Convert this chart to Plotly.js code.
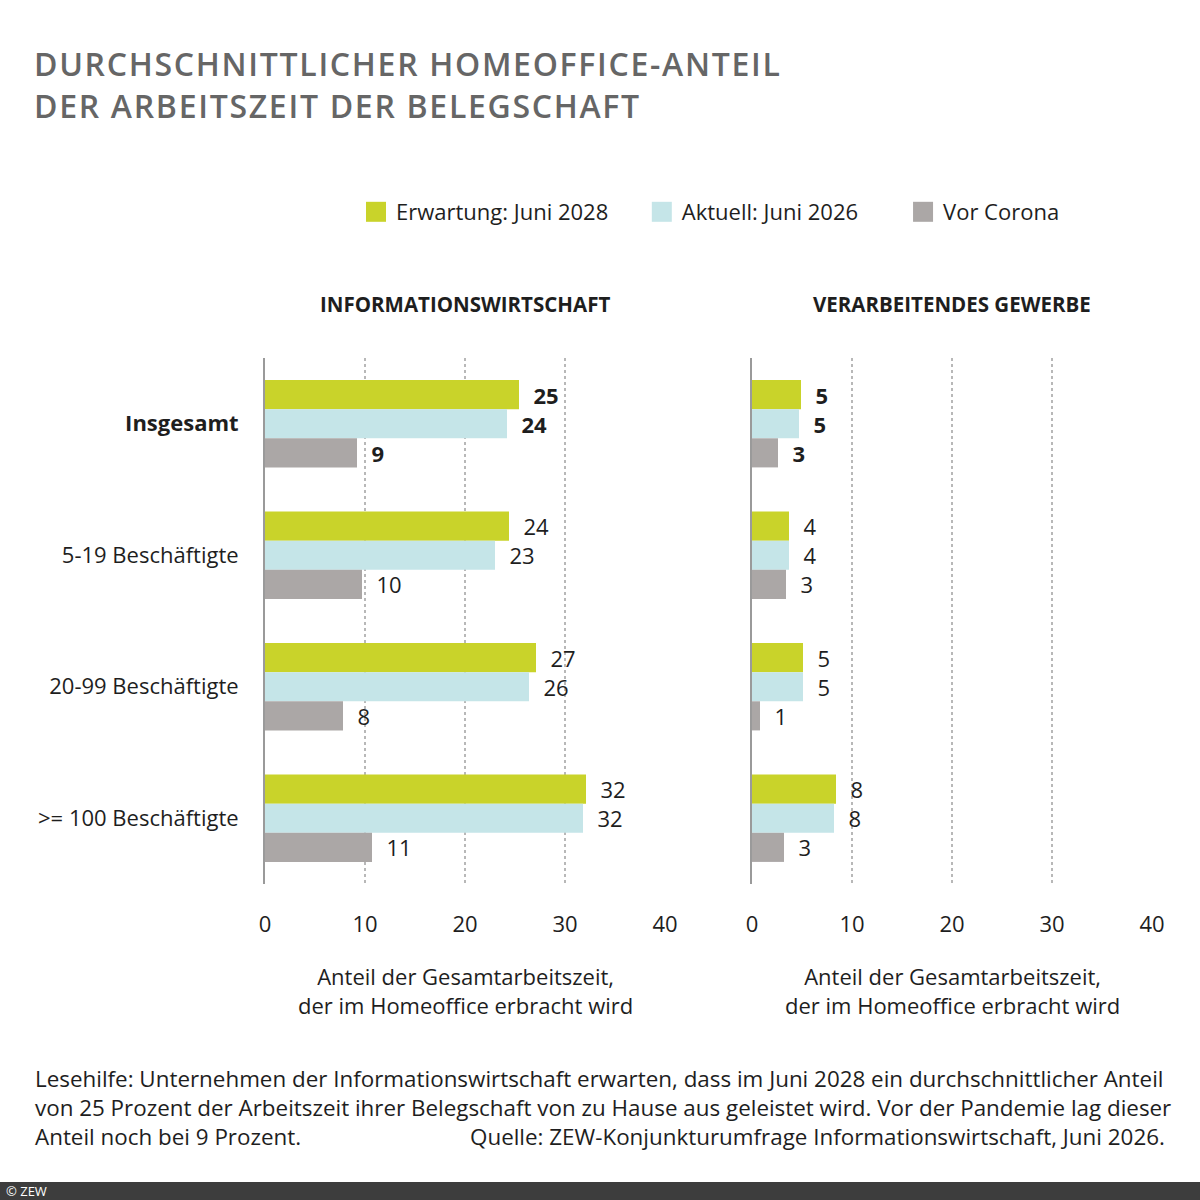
<!DOCTYPE html>
<html>
<head>
<meta charset="utf-8">
<script src="https://cdn.plot.ly/plotly-3.0.1.min.js"></script>
<style>
  html, body { margin: 0; padding: 0; background: #fff; }
  #chart { width: 1200px; height: 1200px; }
  .gtitle { letter-spacing: 1.7px; }
  /* bigger legend squares, like the original */
  .legend .legendpoints path { d: path("M10,10H-10V-10H10Z"); }
</style>
</head>
<body>
<div id="chart"></div>
<script>
// categories and series
var groups = ['Insgesamt', '5-19 Beschäftigte', '20-99 Beschäftigte', '>= 100 Beschäftigte'];
var groupLabels = ['<b>Insgesamt</b>', '5-19 Beschäftigte', '20-99 Beschäftigte', '>= 100 Beschäftigte'];
var seriesNames = ['Erwartung: Juni 2028', 'Aktuell: Juni 2026', 'Vor Corona'];
var seriesColors = ['#c9d32a', '#c5e5e8', '#aba7a6'];

// Informationswirtschaft (bar lengths / printed labels)
var infoErwartung = [25.4, 24.4, 27.1, 32.1];
var infoAktuell = [24.2, 23.0, 26.4, 31.8];
var infoVorCorona = [9.2, 9.7, 7.8, 10.7];
var infoErwartungLbl = [25, 24, 27, 32];
var infoAktuellLbl = [24, 23, 26, 32];
var infoVorCoronaLbl = [9, 10, 8, 11];

// Verarbeitendes Gewerbe
var verErwartung = [4.9, 3.7, 5.1, 8.4];
var verAktuell = [4.7, 3.7, 5.1, 8.2];
var verVorCorona = [2.6, 3.4, 0.8, 3.2];
var verErwartungLbl = [5, 4, 5, 8];
var verAktuellLbl = [5, 4, 5, 8];
var verVorCoronaLbl = [3, 3, 1, 3];

var xTicks = [0, 10, 20, 30, 40];

var FONT = 'Open Sans, sans-serif';
var INK = '#1e1e1e';
var FS = 22;
var W = 1200, H = 1200;

function px(x) { return x / W; }
function py(y) { return 1 - y / H; }

// label text: small gap after bar end, bold for first row
function labels(vals) {
  return vals.map(function (v, i) {
    var t = '\u00a0\u00a0' + v;
    return i === 0 ? '<b>' + t + '</b>' : t;
  });
}

var info = [infoErwartung, infoAktuell, infoVorCorona];
var infoLbl = [infoErwartungLbl, infoAktuellLbl, infoVorCoronaLbl];
var ver = [verErwartung, verAktuell, verVorCorona];
var verLbl = [verErwartungLbl, verAktuellLbl, verVorCoronaLbl];
// spacing between legend entries
var namePad = ['\u00a0\u00a0\u00a0\u00a0\u00a0', '\u00a0\u00a0\u00a0\u00a0\u00a0\u00a0\u00a0', ''];

var data = [];
for (var i = 0; i < 3; i++) {
  data.push({
    type: 'bar',
    orientation: 'h',
    name: seriesNames[i] + namePad[i],
    legendgroup: 's' + i,
    x: info[i],
    y: groups,
    text: labels(infoLbl[i]),
    textposition: 'outside',
    constraintext: 'none',
    cliponaxis: false,
    textfont: { family: FONT, size: FS, color: INK },
    marker: { color: seriesColors[i], line: { width: 0 } },
    hoverinfo: 'skip',
    xaxis: 'x',
    yaxis: 'y'
  });
}
for (var i = 0; i < 3; i++) {
  data.push({
    type: 'bar',
    orientation: 'h',
    name: seriesNames[i],
    legendgroup: 's' + i,
    showlegend: false,
    x: ver[i],
    y: groups,
    text: labels(verLbl[i]),
    textposition: 'outside',
    constraintext: 'none',
    cliponaxis: false,
    textfont: { family: FONT, size: FS, color: INK },
    marker: { color: seriesColors[i], line: { width: 0 } },
    hoverinfo: 'skip',
    xaxis: 'x2',
    yaxis: 'y2'
  });
}

var xAxisBase = {
  range: [0, 40],
  tickvals: xTicks,
  ticktext: xTicks.map(String),
  ticks: 'outside',
  ticklen: 21,
  tickcolor: 'rgba(0,0,0,0)',
  tickfont: { family: FONT, size: FS, color: INK },
  showgrid: true,
  gridcolor: '#b8b8b8',
  gridwidth: 2,
  griddash: 'dot',
  zeroline: false,
  showline: false,
  fixedrange: true
};
var yAxisBase = {
  type: 'category',
  categoryorder: 'array',
  categoryarray: groups,
  autorange: 'reversed',
  domain: [py(884), py(358)],
  showline: true,
  linecolor: '#9a9a9a',
  linewidth: 2,
  showgrid: false,
  zeroline: false,
  fixedrange: true
};

function note(text, x, y, xanchor, size) {
  return {
    text: text, x: px(x), y: py(y), xref: 'paper', yref: 'paper',
    xanchor: xanchor, yanchor: 'middle', showarrow: false,
    font: { family: FONT, size: size || FS, color: INK }
  };
}

var axisTitle = 'Anteil der Gesamtarbeitszeit,<br>der im Homeoffice erbracht wird';
var FOOT = 22.4;

var layout = {
  width: W,
  height: H,
  margin: { l: 0, r: 0, t: 0, b: 0 },
  paper_bgcolor: '#ffffff',
  plot_bgcolor: '#ffffff',
  barmode: 'group',
  bargap: 0.336,
  bargroupgap: 0,
  font: { family: FONT, color: INK },
  title: {
    text: 'DURCHSCHNITTLICHER HOMEOFFICE-ANTEIL<br>DER ARBEITSZEIT DER BELEGSCHAFT',
    x: px(34), xanchor: 'left', xref: 'paper',
    y: py(76), yanchor: 'top', yref: 'paper',
    font: { family: FONT, size: 32, color: '#666666', weight: 600 }
  },
  showlegend: true,
  legend: {
    orientation: 'h',
    x: px(356), xanchor: 'left',
    y: py(212), yanchor: 'middle',
    font: { family: FONT, size: FS, color: INK },
    bgcolor: 'rgba(0,0,0,0)'
  },
  xaxis: Object.assign({}, xAxisBase, { domain: [px(265), px(665)], anchor: 'y' }),
  yaxis: Object.assign({}, yAxisBase, {
    anchor: 'x',
    tickvals: groups,
    ticktext: groupLabels,
    ticks: 'outside',
    ticklen: 20,
    tickcolor: 'rgba(0,0,0,0)',
    tickfont: { family: FONT, size: FS, color: INK }
  }),
  xaxis2: Object.assign({}, xAxisBase, { domain: [px(752), px(1152)], anchor: 'y2' }),
  yaxis2: Object.assign({}, yAxisBase, { anchor: 'x2', showticklabels: false }),
  shapes: [
    { type: 'rect', xref: 'paper', yref: 'paper', x0: 0, x1: 1, y0: 0, y1: py(1182),
      fillcolor: '#3d3d3d', line: { width: 0 }, layer: 'above' }
  ],
  annotations: [
    note('<b>INFORMATIONSWIRTSCHAFT</b>', 465, 304, 'center', 20.5),
    note('<b>VERARBEITENDES GEWERBE</b>', 952, 304, 'center', 20.5),
    note(axisTitle, 465, 990, 'center'),
    note(axisTitle, 952, 990, 'center'),
    note('Lesehilfe: Unternehmen der Informationswirtschaft erwarten, dass im Juni 2028 ein durchschnittlicher Anteil', 33, 1078, 'left', FOOT),
    note('von 25 Prozent der Arbeitszeit ihrer Belegschaft von zu Hause aus geleistet wird. Vor der Pandemie lag dieser', 33, 1107, 'left', FOOT),
    note('Anteil noch bei 9 Prozent.', 33, 1136, 'left', FOOT),
    note('Quelle: ZEW-Konjunkturumfrage Informationswirtschaft, Juni 2026.', 1167, 1136, 'right', FOOT),
    {
      text: '© ZEW', x: px(4), y: py(1191), xref: 'paper', yref: 'paper', xanchor: 'left', yanchor: 'middle',
      showarrow: false, font: { family: FONT, size: 13, color: '#ffffff' }
    }
  ]
};

Plotly.newPlot('chart', data, layout, { displayModeBar: false, staticPlot: true });
</script>
</body>
</html>
